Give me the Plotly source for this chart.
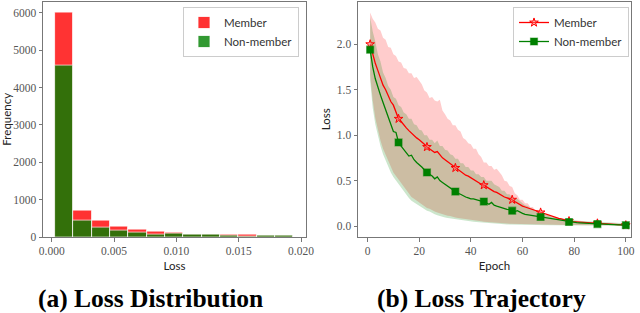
import plotly.graph_objects as go

# ---------------- data: (a) loss histogram ----------------
bin_start = 0.00026
bin_width = 0.00147
member_counts = [6000, 720, 435, 268, 197, 143, 130, 80, 80, 63, 54, 36, 45]
nonmember_counts = [4600, 430, 252, 161, 116, 75, 85, 63, 63, 36, 12, 36, 27]
bin_centers = [bin_start + bin_width * (i + 0.5) for i in range(len(member_counts))]

# ---------------- data: (b) loss trajectory ----------------
epochs = list(range(1, 101))
member_mean = [
    2.00, 1.88, 1.79, 1.71, 1.62, 1.55, 1.50, 1.43, 1.37, 1.33,
    1.26, 1.18, 1.15, 1.11, 1.08, 1.05, 1.02, 0.99, 0.97, 0.95,
    0.93, 0.90, 0.87, 0.85, 0.83, 0.81, 0.82, 0.78, 0.75, 0.73,
    0.71, 0.69, 0.66, 0.64, 0.62, 0.60, 0.58, 0.56, 0.55, 0.53,
    0.51, 0.50, 0.48, 0.46, 0.45, 0.43, 0.42, 0.40, 0.38, 0.37,
    0.35, 0.33, 0.32, 0.31, 0.30, 0.29, 0.27, 0.25, 0.23, 0.22,
    0.21, 0.20, 0.19, 0.18, 0.17, 0.16, 0.15, 0.14, 0.13, 0.12,
    0.11, 0.10, 0.09, 0.085, 0.08, 0.07, 0.06, 0.055, 0.05, 0.048,
    0.046, 0.044, 0.042, 0.040, 0.038, 0.036, 0.034, 0.032, 0.030, 0.029,
    0.027, 0.026, 0.024, 0.022, 0.020, 0.018, 0.016, 0.014, 0.012, 0.010,
]
nonmember_mean = [
    1.94, 1.75, 1.62, 1.52, 1.44, 1.36, 1.28, 1.20, 1.12, 1.04,
    1.03, 0.92, 0.88, 0.84, 0.80, 0.77, 0.78, 0.73, 0.70, 0.68,
    0.65, 0.62, 0.59, 0.57, 0.55, 0.52, 0.54, 0.50, 0.48, 0.46,
    0.44, 0.42, 0.40, 0.38, 0.36, 0.35, 0.33, 0.32, 0.31, 0.30,
    0.30, 0.29, 0.28, 0.275, 0.27, 0.25, 0.24, 0.26, 0.23, 0.22,
    0.21, 0.20, 0.19, 0.185, 0.18, 0.17, 0.16, 0.17, 0.15, 0.14,
    0.13, 0.125, 0.12, 0.115, 0.11, 0.105, 0.10, 0.095, 0.09, 0.085,
    0.08, 0.075, 0.07, 0.065, 0.06, 0.055, 0.05, 0.045, 0.042, 0.040,
    0.038, 0.036, 0.034, 0.032, 0.030, 0.028, 0.026, 0.024, 0.022, 0.021,
    0.020, 0.019, 0.018, 0.017, 0.016, 0.015, 0.014, 0.013, 0.012, 0.010,
]
member_upper = [
    2.35, 2.28, 2.24, 2.17, 2.15, 2.07, 2.05, 1.97, 1.96, 1.89,
    1.87, 1.81, 1.80, 1.74, 1.73, 1.68, 1.68, 1.63, 1.64, 1.60,
    1.56, 1.49, 1.47, 1.41, 1.42, 1.38, 1.37, 1.39, 1.27, 1.23,
    1.18, 1.16, 1.11, 1.11, 1.06, 1.04, 0.97, 0.95, 0.91, 0.90,
    0.85, 0.85, 0.79, 0.76, 0.70, 0.70, 0.66, 0.66, 0.62, 0.63,
    0.59, 0.56, 0.50, 0.49, 0.44, 0.43, 0.36, 0.34, 0.29, 0.29,
    0.25, 0.25, 0.21, 0.21, 0.17, 0.18, 0.15, 0.15, 0.12, 0.12,
    0.10, 0.095, 0.085, 0.085, 0.075, 0.075, 0.065, 0.065, 0.058, 0.056,
    0.054, 0.052, 0.050, 0.048, 0.046, 0.044, 0.042, 0.040, 0.038, 0.036,
    0.034, 0.032, 0.031, 0.030, 0.028, 0.027, 0.025, 0.024, 0.022, 0.020,
]
member_lower = [
    1.66, 1.38, 1.19, 1.05, 0.94, 0.85, 0.78, 0.71, 0.65, 0.59,
    0.55, 0.51, 0.47, 0.43, 0.39, 0.35, 0.32, 0.30, 0.28, 0.26,
    0.24, 0.22, 0.20, 0.19, 0.17, 0.16, 0.15, 0.14, 0.13, 0.12,
    0.115, 0.11, 0.10, 0.095, 0.09, 0.085, 0.08, 0.075, 0.07, 0.065,
    0.062, 0.058, 0.055, 0.052, 0.049, 0.046, 0.043, 0.040, 0.038, 0.036,
    0.034, 0.032, 0.030, 0.028, 0.027, 0.026, 0.025, 0.024, 0.023, 0.022,
    0.021, 0.021, 0.020, 0.020, 0.019, 0.019, 0.018, 0.018, 0.017, 0.017,
    0.016, 0.016, 0.015, 0.015, 0.014, 0.014, 0.013, 0.013, 0.012, 0.012,
    0.012, 0.011, 0.011, 0.011, 0.010, 0.010, 0.010, 0.010, 0.009, 0.009,
    0.009, 0.009, 0.009, 0.008, 0.008, 0.008, 0.008, 0.008, 0.008, 0.008,
]
nonmember_upper = [
    2.30, 2.14, 2.03, 1.89, 1.81, 1.69, 1.63, 1.54, 1.50, 1.42,
    1.40, 1.33, 1.31, 1.25, 1.23, 1.18, 1.18, 1.12, 1.11, 1.06,
    1.05, 1.00, 1.00, 0.95, 0.95, 0.91, 0.94, 0.88, 0.88, 0.84,
    0.83, 0.79, 0.78, 0.74, 0.74, 0.69, 0.69, 0.65, 0.65, 0.61,
    0.61, 0.57, 0.57, 0.54, 0.54, 0.50, 0.50, 0.50, 0.46, 0.44,
    0.43, 0.39, 0.39, 0.35, 0.35, 0.31, 0.31, 0.30, 0.27, 0.25,
    0.23, 0.22, 0.20, 0.19, 0.17, 0.16, 0.15, 0.14, 0.13, 0.12,
    0.11, 0.10, 0.095, 0.09, 0.085, 0.08, 0.075, 0.07, 0.066, 0.063,
    0.060, 0.058, 0.056, 0.054, 0.052, 0.050, 0.048, 0.046, 0.045, 0.044,
    0.042, 0.041, 0.040, 0.038, 0.037, 0.036, 0.034, 0.033, 0.032, 0.030,
]
nonmember_lower = [
    1.60, 1.30, 1.12, 0.98, 0.88, 0.79, 0.72, 0.65, 0.59, 0.54,
    0.50, 0.46, 0.43, 0.39, 0.35, 0.31, 0.28, 0.26, 0.24, 0.22,
    0.20, 0.19, 0.17, 0.16, 0.14, 0.13, 0.12, 0.11, 0.10, 0.095,
    0.09, 0.085, 0.08, 0.075, 0.07, 0.065, 0.06, 0.055, 0.052, 0.05,
    0.047, 0.044, 0.041, 0.038, 0.035, 0.032, 0.030, 0.028, 0.026, 0.024,
    0.022, 0.020, 0.019, 0.018, 0.017, 0.016, 0.015, 0.014, 0.013, 0.012,
    0.012, 0.012, 0.011, 0.011, 0.011, 0.010, 0.010, 0.010, 0.010, 0.009,
    0.009, 0.009, 0.009, 0.008, 0.008, 0.008, 0.008, 0.008, 0.007, 0.007,
    0.007, 0.007, 0.007, 0.007, 0.006, 0.006, 0.006, 0.006, 0.006, 0.006,
    0.006, 0.005, 0.005, 0.005, 0.005, 0.005, 0.005, 0.005, 0.005, 0.005,
]
marker_every = 11

# ---------------- styles ----------------
RED = "rgb(255,0,0)"
GREEN = "rgb(0,128,0)"
AXIS_COL = "#777777"
TICK_FONT = dict(family="Liberation Serif, Times New Roman, serif", size=11.5, color="#555555")
LABEL_FONT = dict(family="Lato, DejaVu Sans, sans-serif", size=11.5, color="#222222")
LEG_FONT = dict(family="Lato, DejaVu Sans, sans-serif", size=11.5, color="#333333")
STAR = dict(symbol="star", size=6.5, color="rgba(255,110,110,0.5)", line=dict(color=RED, width=1))
SQUARE = dict(symbol="square", size=7, color=GREEN, line=dict(color="rgba(0,128,0,0.5)", width=1.2))

fig = go.Figure()

# (a) histogram, overlaid
fig.add_trace(go.Bar(
    x=bin_centers, y=member_counts, width=bin_width, name="Member",
    marker=dict(color=RED, line=dict(color="white", width=0.8)), opacity=0.8,
    xaxis="x", yaxis="y", legend="legend",
))
fig.add_trace(go.Bar(
    x=bin_centers, y=nonmember_counts, width=bin_width, name="Non-member",
    marker=dict(color=GREEN, line=dict(color="white", width=0.8)), opacity=0.8,
    xaxis="x", yaxis="y", legend="legend",
))

# (b) bands
fig.add_trace(go.Scatter(x=epochs, y=member_lower, mode="lines", line=dict(width=0),
                         showlegend=False, hoverinfo="skip", xaxis="x2", yaxis="y2"))
fig.add_trace(go.Scatter(x=epochs, y=member_upper, mode="lines", line=dict(width=0),
                         fill="tonexty", fillcolor="rgba(255,0,0,0.2)",
                         showlegend=False, hoverinfo="skip", xaxis="x2", yaxis="y2"))
fig.add_trace(go.Scatter(x=epochs, y=nonmember_lower, mode="lines", line=dict(width=0),
                         showlegend=False, hoverinfo="skip", xaxis="x2", yaxis="y2"))
fig.add_trace(go.Scatter(x=epochs, y=nonmember_upper, mode="lines", line=dict(width=0),
                         fill="tonexty", fillcolor="rgba(0,128,0,0.2)",
                         showlegend=False, hoverinfo="skip", xaxis="x2", yaxis="y2"))

# (b) mean lines
fig.add_trace(go.Scatter(x=epochs, y=member_mean, mode="lines", line=dict(color=RED, width=1.3),
                         showlegend=False, xaxis="x2", yaxis="y2"))
fig.add_trace(go.Scatter(x=epochs, y=nonmember_mean, mode="lines", line=dict(color=GREEN, width=1.3),
                         showlegend=False, xaxis="x2", yaxis="y2"))

# (b) markers every 11 epochs
mk_ep = epochs[::marker_every]
fig.add_trace(go.Scatter(x=mk_ep, y=member_mean[::marker_every], mode="markers", marker=STAR,
                         showlegend=False, xaxis="x2", yaxis="y2"))
fig.add_trace(go.Scatter(x=mk_ep, y=nonmember_mean[::marker_every], mode="markers", marker=SQUARE,
                         showlegend=False, xaxis="x2", yaxis="y2"))

# legend entries for (b)
fig.add_trace(go.Scatter(x=[None], y=[None], mode="lines+markers", name="Member",
                         line=dict(color=RED, width=1.3), marker=STAR,
                         xaxis="x2", yaxis="y2", legend="legend2"))
fig.add_trace(go.Scatter(x=[None], y=[None], mode="lines+markers", name="Non-member",
                         line=dict(color=GREEN, width=1.3), marker=SQUARE,
                         xaxis="x2", yaxis="y2", legend="legend2"))

ydom = [1 - 237 / 313, 1 - 1.5 / 313]
axis_common = dict(showline=True, linecolor=AXIS_COL, linewidth=1, mirror=True,
                   ticks="outside", ticklen=3.5, tickcolor=AXIS_COL, tickwidth=1,
                   showgrid=False, zeroline=False, tickfont=TICK_FONT, automargin=False)

fig.update_layout(
    template="none",
    width=640, height=313,
    margin=dict(l=0, r=0, t=0, b=0),
    paper_bgcolor="white", plot_bgcolor="white",
    barmode="overlay", bargap=0,
    showlegend=True,
    xaxis=dict(domain=[43 / 640, 306 / 640], range=[-0.0007, 0.0204],
               tickvals=[0, 0.005, 0.01, 0.015, 0.02], tickformat=".3f",
               title=dict(text="Loss", font=LABEL_FONT, standoff=5), anchor="y", **axis_common),
    yaxis=dict(domain=ydom, range=[0, 6300], tickvals=[0, 1000, 2000, 3000, 4000, 5000, 6000],
               title=dict(text="Frequency", font=LABEL_FONT, standoff=3), anchor="x", **axis_common),
    xaxis2=dict(domain=[358 / 640, 631 / 640], range=[-3.7, 102],
                tickvals=[0, 20, 40, 60, 80, 100],
                title=dict(text="Epoch", font=LABEL_FONT, standoff=5), anchor="y2", **axis_common),
    yaxis2=dict(domain=ydom, range=[-0.12, 2.47], tickvals=[0, 0.5, 1.0, 1.5, 2.0], tickformat=".1f",
                title=dict(text="Loss", font=LABEL_FONT, standoff=3), anchor="x2", **axis_common),
    legend=dict(x=299 / 640, y=1 - 7 / 313, xanchor="right", yanchor="top", traceorder="normal",
                bgcolor="rgba(255,255,255,0.8)", bordercolor="#cccccc", borderwidth=1,
                font=LEG_FONT, tracegroupgap=0, itemwidth=30),
    legend2=dict(x=629 / 640, y=1 - 7 / 313, xanchor="right", yanchor="top", traceorder="normal",
                 bgcolor="rgba(255,255,255,0.8)", bordercolor="#cccccc", borderwidth=1,
                 font=LEG_FONT, tracegroupgap=0, itemwidth=30),
    annotations=[
        dict(text="<b>(a) Loss Distribution</b>", x=150 / 640, y=1 - 298 / 313,
             xref="paper", yref="paper", showarrow=False, xanchor="center", yanchor="middle",
             font=dict(family="Liberation Serif, Times New Roman, serif", size=25.5, color="black")),
        dict(text="<b>(b) Loss Trajectory</b>", x=481 / 640, y=1 - 298 / 313,
             xref="paper", yref="paper", showarrow=False, xanchor="center", yanchor="middle",
             font=dict(family="Liberation Serif, Times New Roman, serif", size=25.5, color="black")),
    ],
)

fig.write_html("out.html", config={"displayModeBar": False},
               post_script="document.body.style.margin='0px';document.body.style.overflow='hidden';")
